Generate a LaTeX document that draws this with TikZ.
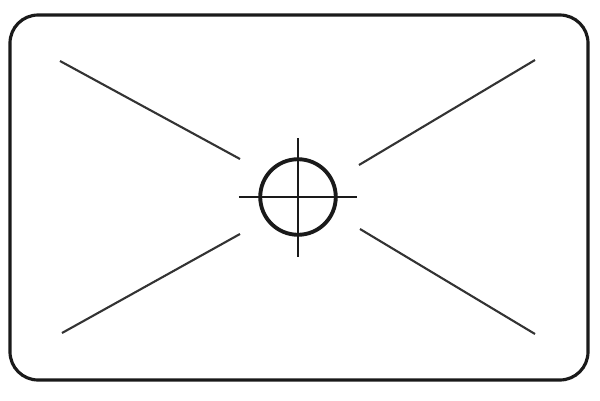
\documentclass[tikz,border=0pt]{standalone}
\usetikzlibrary{positioning,calc}
\usepackage{xcolor}
\definecolor{framecol}{HTML}{1A1A1A}
\definecolor{linecol}{HTML}{333333}

\begin{document}
\begin{tikzpicture}[x=0.02cm,y=-0.02cm]
    \useasboundingbox (0,0) rectangle (600,400);
    % Frame
    \draw[framecol,line width=1.8pt,rounded corners=16pt] (10,15) rectangle (588,380);

    % Target
    \node[circle,draw=framecol,line width=2.2pt,minimum size=43pt,inner sep=0pt] (target) at (298,197) {};
    \draw[framecol,line width=1.2pt] (239,197) -- (357,197);
    \draw[framecol,line width=1.2pt] (298,138) -- (298,257);

    % Diagonals
    \draw[linecol,line width=1.2pt] (60,61) -- (240,159);
    \draw[linecol,line width=1.2pt] (535,60) -- (359,165);
    \draw[linecol,line width=1.2pt] (62,333) -- (240,234);
    \draw[linecol,line width=1.2pt] (535,334) -- (360,229);
\end{tikzpicture}
\end{document}
